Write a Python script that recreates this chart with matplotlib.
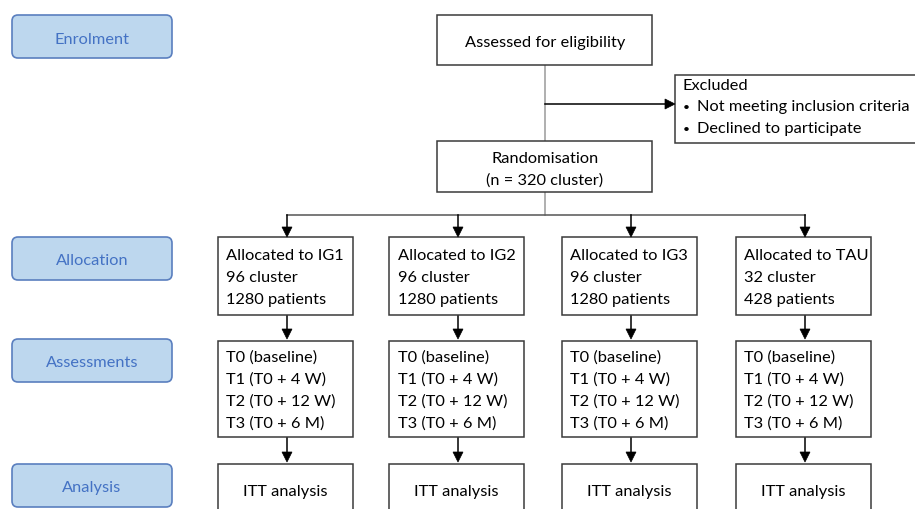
import matplotlib
matplotlib.use("Agg")
import matplotlib.pyplot as plt
from matplotlib.patches import FancyBboxPatch, Rectangle, Polygon

plt.rcParams['font.family'] = ['Lato', 'DejaVu Sans']

stage_labels = ["Enrolment", "Allocation", "Assessments", "Analysis"]
stage_y = [16, 238, 340, 465]

top_text = "Assessed for eligibility"
rand_lines = ["Randomisation", "(n = 320 cluster)"]
excluded_title = "Excluded"
excluded_items = ["Not meeting inclusion criteria", "Declined to participate"]

groups = ["IG1", "IG2", "IG3", "TAU"]
clusters = [96, 96, 96, 32]
patients = [1280, 1280, 1280, 428]
assessments = ["T0 (baseline)", "T1 (T0 + 4 W)", "T2 (T0 + 12 W)", "T3 (T0 + 6 M)"]
analysis_text = "ITT analysis"

W, H = 915, 510
fig = plt.figure(figsize=(W / 100, H / 100), dpi=100)
ax = fig.add_axes([0, 0, 1, 1])
ax.set_xlim(0, W)
ax.set_ylim(H, 0)
ax.axis('off')

FS = 11.8
LS = 21.7  # line step in pixels
EDGE = "#3a3a3a"
GRAY = "#9a9a9a"


def box(x0, y0, x1, y1):
    ax.add_patch(Rectangle((x0, y0), x1 - x0, y1 - y0, facecolor="white",
                           edgecolor=EDGE, lw=1.1, zorder=3))


def lines(x, y_first, texts, ha="left"):
    for k, t in enumerate(texts):
        ax.text(x, y_first + k * LS, t, ha=ha, va="center", fontsize=FS, zorder=5)


def arrow_head(x, y, direction="down"):
    if direction == "down":
        pts = [(x - 5, y - 10), (x + 5, y - 10), (x, y)]
    else:
        pts = [(x - 10, y - 5), (x - 10, y + 5), (x, y)]
    ax.add_patch(Polygon(pts, closed=True, facecolor="black", edgecolor="black", lw=0.5, zorder=4))


# stage labels
for lab, y in zip(stage_labels, stage_y):
    ax.add_patch(FancyBboxPatch((12 + 6, y + 6), 160 - 12, 43 - 12,
                                boxstyle="round,pad=6", facecolor="#bdd7ee",
                                edgecolor="#5a7fbf", lw=1.2, zorder=3))
    ax.text(92, y + 23.5, lab, ha="center", va="center", fontsize=FS,
            color="#4472c4", zorder=5)

# top boxes
box(437, 16, 652, 66)
ax.text(545, 43, top_text, ha="center", va="center", fontsize=FS, zorder=5)
box(437, 142, 652, 193)
lines(545, 159, rand_lines, ha="center")
box(675, 76, 935, 144)
ax.text(683, 86, excluded_title, ha="left", va="center", fontsize=FS, zorder=5)
for k, item in enumerate(excluded_items):
    yy = 107.5 + k * LS
    ax.text(683, yy, "\u2022", ha="left", va="center", fontsize=FS - 3, zorder=5)
    ax.text(697, yy, item, ha="left", va="center", fontsize=FS, zorder=5)

# connector lines
ax.plot([545, 545], [66, 142], color=GRAY, lw=1.1, zorder=2)
ax.plot([545, 666], [105, 105], color="black", lw=1.1, zorder=2)
arrow_head(675, 105, "right")
ax.plot([545, 545], [193, 216], color=GRAY, lw=1.1, zorder=2)

centers = [287, 458, 631, 805]
ax.plot([centers[0], centers[-1]], [216, 216], color="#555555", lw=1.1, zorder=2)

bw = 135
for i, cx in enumerate(centers):
    x0 = cx - bw / 2 - 2
    x1 = x0 + bw
    ax.plot([cx, cx], [216, 229], color="black", lw=1.1, zorder=2)
    arrow_head(cx, 238)
    box(x0, 238, x1, 316)
    lines(x0 + 9, 256.5, [f"Allocated to {groups[i]}", f"{clusters[i]} cluster",
                          f"{patients[i]} patients"])
    ax.plot([cx, cx], [316, 331], color="black", lw=1.1, zorder=2)
    arrow_head(cx, 340)
    box(x0, 342, x1, 438)
    lines(x0 + 9, 358, assessments)
    ax.plot([cx, cx], [438, 454], color="black", lw=1.1, zorder=2)
    arrow_head(cx, 463)
    box(x0, 465, x1, 530)
    ax.text((x0 + x1) / 2, 492, analysis_text, ha="center", va="center",
            fontsize=FS, zorder=5)

fig.savefig("out.png", dpi=100)
